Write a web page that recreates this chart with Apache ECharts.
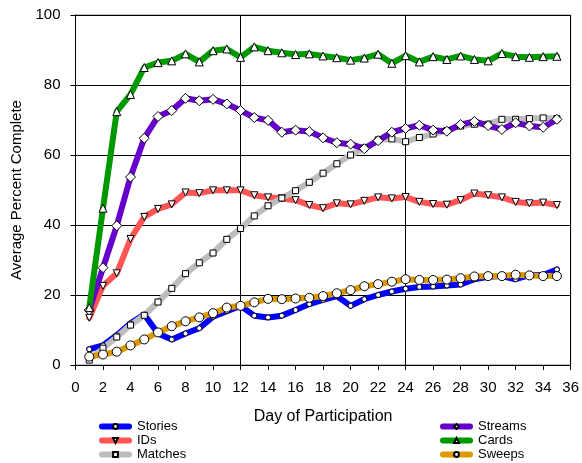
<!DOCTYPE html>
<html>
<head>
<meta charset="utf-8">
<script src="https://cdn.jsdelivr.net/npm/echarts@6/dist/echarts.min.js"></script>
<style>
  html, body { margin: 0; padding: 0; background: #fff; }
  #chart { width: 582px; height: 463px; }
</style>
</head>
<body>
<div id="chart"></div>
<script>
// Day of participation (x) for every series
const days = [1,2,3,4,5,6,7,8,9,10,11,12,13,14,15,16,17,18,19,20,21,22,23,24,25,26,27,28,29,30,31,32,33,34,35];

// Average percent complete per activity
const stories = [4.5,5.6,8.5,11.9,14.4,9.0,7.3,9.0,10.5,13.8,15.4,16.9,14.1,13.6,14.1,15.7,17.4,18.6,19.7,16.9,18.8,20.0,21.0,21.8,22.3,22.4,22.7,23.0,24.5,25.2,25.4,24.5,25.7,25.7,27.3];
const ids = [13.5,22.6,26.2,36.0,42.3,44.6,45.9,49.3,49.1,49.9,49.9,49.9,48.5,47.9,47.6,47.1,45.7,44.8,46.2,45.9,46.9,47.9,47.6,48.0,46.6,46.0,45.8,47.1,49.0,48.5,47.9,46.6,46.2,46.4,45.7];
const matches = [1.4,4.8,8.0,11.4,14.2,18.0,21.9,26.1,29.2,32.0,35.9,39.0,42.6,45.5,47.7,49.8,52.2,54.8,57.5,60.0,62.0,64.3,64.6,63.8,65.0,66.0,67.0,68.3,68.8,68.8,70.2,70.2,70.4,70.6,70.4];
const streams = [15.7,27.8,39.8,53.7,64.8,71.0,72.7,76.2,75.5,75.9,74.6,72.7,70.7,69.9,66.5,67.1,66.7,64.9,63.5,63.1,61.8,64.1,66.5,67.6,68.5,67.1,66.8,68.7,69.6,68.4,67.3,69.2,68.3,67.9,70.2];
const cards = [16.4,44.8,72.4,77.3,85.0,86.4,86.9,88.9,86.6,89.8,90.3,87.9,90.9,89.8,89.2,88.7,88.9,88.3,87.8,87.1,87.7,88.8,86.2,88.4,86.6,88.1,87.3,88.3,87.3,86.9,89.0,88.1,87.9,88.1,88.2];
const sweeps = [2.4,3.0,3.8,5.6,7.3,9.3,11.1,12.5,13.6,14.8,16.4,16.9,17.9,18.9,18.8,19.0,19.2,19.7,20.5,21.4,22.5,23.1,23.8,24.5,24.3,24.3,24.4,24.8,25.3,25.4,25.4,25.8,25.6,25.4,25.4];

const FONT = '"Liberation Sans", Arial, sans-serif';

function pairs(vals) {
  return days.map((d, i) => [d, vals[i]]);
}

function lineSeries(name, vals, color, symbol, size, rotate) {
  return {
    name: name,
    type: 'line',
    data: pairs(vals),
    symbol: symbol,
    symbolSize: size,
    symbolRotate: rotate || 0,
    showAllSymbol: true,
    lineStyle: { color: color, width: 6, join: 'round', cap: 'round' },
    itemStyle: { color: '#ffffff', borderColor: '#000000', borderWidth: 1 },
    emphasis: { disabled: true },
    animation: false
  };
}

// one legend entry per box so each row sits exactly where it should
function legendEntry(name, left, top) {
  return {
    left: left, top: top,
    itemWidth: 27, itemHeight: 6, itemGap: 0,
    padding: 0,
    lineStyle: { width: 6, cap: 'round' },
    textStyle: { fontFamily: FONT, fontSize: 13, color: '#000', padding: [0, 0, 0, 3] },
    data: [name]
  };
}

const chart = echarts.init(document.getElementById('chart'), null, { renderer: 'canvas' });

chart.setOption({
  backgroundColor: '#ffffff',
  animation: false,
  textStyle: { fontFamily: FONT },
  grid: {
    left: 75.5, right: 8, top: 15, bottom: 98,
    show: true, borderColor: '#808080', borderWidth: 1, backgroundColor: 'transparent'
  },
  legend: [
    legendEntry('Stories', 99, 420),
    legendEntry('IDs', 99, 434),
    legendEntry('Matches', 99, 448),
    legendEntry('Streams', 440, 420),
    legendEntry('Cards', 440, 434),
    legendEntry('Sweeps', 440, 448)
  ],
  xAxis: [
    {
      type: 'value', min: 0, max: 36, interval: 2,
      name: 'Day of Participation', nameLocation: 'middle', nameGap: 44,
      nameTextStyle: { fontFamily: FONT, fontSize: 16, color: '#000' },
      axisLine: { show: true, lineStyle: { color: '#000', width: 1 } },
      axisTick: { show: true, length: 5, lineStyle: { color: '#000' } },
      axisLabel: { fontFamily: FONT, fontSize: 15, color: '#000', margin: 15 },
      splitLine: { show: false }
    },
    {
      // reference lines every 12 days
      type: 'value', min: 0, max: 36, interval: 12, position: 'bottom',
      axisLine: { show: false }, axisTick: { show: false }, axisLabel: { show: false },
      splitLine: { show: true, lineStyle: { color: '#000', width: 1 } }
    }
  ],
  yAxis: {
    type: 'value', min: 0, max: 100, interval: 20,
    name: 'Average Percent Complete', nameLocation: 'middle', nameGap: 50, nameRotate: 90,
    nameTextStyle: { fontFamily: FONT, fontSize: 15, color: '#000' },
    axisLine: { show: true, lineStyle: { color: '#000', width: 1 } },
    axisTick: { show: true, length: 5, lineStyle: { color: '#000' } },
    axisLabel: { fontFamily: FONT, fontSize: 15, color: '#000', margin: 15 },
    splitLine: { show: true, lineStyle: { color: '#000', width: 1 } }
  },
  series: [
    lineSeries('Stories', stories, '#0000ff', 'circle', 5),
    lineSeries('IDs', ids, '#ff5555', 'triangle', 7, 180),
    lineSeries('Matches', matches, '#bdbdbd', 'rect', 6),
    lineSeries('Streams', streams, '#6600cc', 'diamond', 10),
    lineSeries('Cards', cards, '#009900', 'triangle', 8),
    lineSeries('Sweeps', sweeps, '#dd9900', 'circle', 9)
  ]
});
</script>
</body>
</html>
